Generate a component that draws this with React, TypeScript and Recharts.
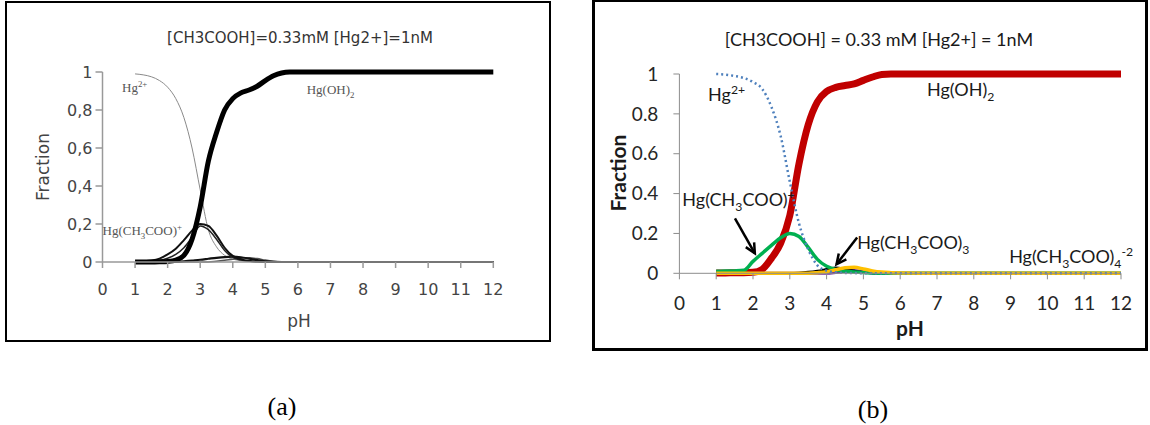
import React from 'react';
import { LineChart, Line, XAxis, YAxis, ReferenceDot, ReferenceLine } from 'recharts';

// pH grid shared by both panels
const pH = [1, 1.25, 1.5, 1.75, 2, 2.25, 2.5, 2.75, 3, 3.25, 3.5, 3.75, 4, 4.25, 4.5, 4.75, 5, 5.25, 5.5, 5.75, 6, 7, 8, 9, 10, 11, 12];

// Panel (a)
const hg2A = [0.99, 0.985, 0.975, 0.955, 0.92, 0.86, 0.76, 0.6, 0.38, 0.17, 0.08, 0.035, 0.015, 0.007, 0.003, 0.001, 0, 0, 0, 0, 0, 0, 0, 0, 0, 0, 0];
const hgoh2A = [0, 0, 0, 0.001, 0.003, 0.01, 0.035, 0.12, 0.29, 0.53, 0.68, 0.8, 0.86, 0.89, 0.905, 0.925, 0.955, 0.98, 0.995, 1, 1, 1, 1, 1, 1, 1, 1];
const hgacA = [0.002, 0.004, 0.008, 0.018, 0.04, 0.07, 0.115, 0.165, 0.2, 0.19, 0.14, 0.075, 0.032, 0.015, 0.006, 0.002, 0.001, 0, 0, 0, 0, 0, 0, 0, 0, 0, 0];
const innerA = [0, 0.001, 0.003, 0.008, 0.02, 0.04, 0.075, 0.13, 0.19, 0.17, 0.12, 0.06, 0.025, 0.01, 0.004, 0.001, 0, 0, 0, 0, 0, 0, 0, 0, 0, 0, 0];
const small1A = [0, 0, 0, 0, 0, 0, 0.004, 0.008, 0.012, 0.017, 0.022, 0.026, 0.028, 0.025, 0.018, 0.01, 0.004, 0.001, 0, 0, 0, 0, 0, 0, 0, 0, 0];
const small2A = [0, 0, 0, 0, 0, 0, 0, 0, 0, 0, 0.004, 0.009, 0.015, 0.02, 0.022, 0.018, 0.01, 0.004, 0.001, 0, 0, 0, 0, 0, 0, 0, 0];

// Panel (b)
const hg2B = [1.0, 0.997, 0.99, 0.98, 0.96, 0.925, 0.835, 0.69, 0.46, 0.25, 0.12, 0.04, 0.013, 0.005, 0.002, 0.001, 0, 0, 0, 0, 0, 0, 0, 0, 0, 0, 0];
const hgoh2B = [0.002, 0.002, 0.003, 0.003, 0.005, 0.02, 0.075, 0.15, 0.29, 0.55, 0.745, 0.86, 0.912, 0.933, 0.942, 0.95, 0.968, 0.985, 0.998, 1, 1, 1, 1, 1, 1, 1, 1];
const greenB = [0.01, 0.011, 0.012, 0.015, 0.06, 0.1, 0.14, 0.178, 0.2, 0.185, 0.13, 0.07, 0.035, 0.018, 0.01, 0.007, 0.004, 0.001, 0, 0, 0, 0, 0, 0, 0, 0, 0];
const blackB = [0, 0, 0, 0, 0, 0, 0, 0, 0, 0.002, 0.006, 0.012, 0.02, 0.028, 0.022, 0.012, 0.005, 0.001, 0, 0, 0, 0, 0, 0, 0, 0, 0];
const purpleB = [0, 0, 0, 0, 0, 0, 0, 0, 0, 0, 0, 0, 0, 0.004, 0.01, 0.014, 0.008, 0.002, 0, 0, 0, 0, 0, 0, 0, 0, 0];
const yellowB = [0, 0, 0, 0, 0, 0, 0, 0, 0, 0, 0, 0.003, 0.008, 0.018, 0.028, 0.03, 0.022, 0.012, 0.006, 0.003, 0.001, 0, 0, 0, 0, 0, 0];

const xTicks = [0, 1, 2, 3, 4, 5, 6, 7, 8, 9, 10, 11, 12];
const yTicks = [0, 0.2, 0.4, 0.6, 0.8, 1];

const titleA = '[CH3COOH]=0.33mM  [Hg2+]=1nM';
const titleB = '[CH3COOH] = 0.33 mM [Hg2+] = 1nM';

const dataA = pH.map((p, i) => ({ pH: p, hg2: hg2A[i], hgoh2: hgoh2A[i], hgac: hgacA[i], inner: innerA[i], s1: small1A[i], s2: small2A[i] }));
const dataB = pH.map((p, i) => ({ pH: p, hg2: hg2B[i], hgoh2: hgoh2B[i], green: greenB[i], black: blackB[i], purple: purpleB[i], yellow: yellowB[i] }));

const fmtComma = (v: number) => (v === 0 || v === 1 ? String(v) : v.toFixed(1).replace('.', ','));
const fmtDot = (v: number) => (v === 0 || v === 1 ? String(v) : v.toFixed(1));

type Part = [string, 'n' | 'sub' | 'sup'];

const makeLabel = (parts: Part[], font: string, size: number, fill: string) => (p: any) => {
  let cur = 0;
  return (
    <text x={p.cx} y={p.cy} fontFamily={font} fontSize={size} fill={fill}>
      {parts.map(([t, k], i) => {
        const target = k === 'sub' ? size * 0.3 : k === 'sup' ? -size * 0.4 : 0;
        const dy = target - cur;
        cur = target;
        return (
          <tspan key={i} dy={dy} fontSize={k === 'n' ? size : size * 0.68}>
            {t}
          </tspan>
        );
      })}
    </text>
  );
};

const arrowShape = (p: any) => {
  const { x1, y1, x2, y2 } = p;
  const ang = Math.atan2(y2 - y1, x2 - x1);
  const L = 11;
  const a1 = ang + Math.PI - 0.45;
  const a2 = ang + Math.PI + 0.45;
  return (
    <g>
      <line x1={x1} y1={y1} x2={x2} y2={y2} stroke="#000" strokeWidth={2.5} />
      <polyline
        points={`${x2 + L * Math.cos(a1)},${y2 + L * Math.sin(a1)} ${x2},${y2} ${x2 + L * Math.cos(a2)},${y2 + L * Math.sin(a2)}`}
        fill="none"
        stroke="#000"
        strokeWidth={2.5}
      />
    </g>
  );
};

const serif = 'Liberation Serif, Times New Roman, serif';
const sansA = 'DejaVu Sans, sans-serif';
const lato = 'Lato, sans-serif';

export default function App() {
  const tickA = { fill: '#444', fontFamily: sansA, fontSize: 16 };
  const tickB = { fill: '#262626', fontFamily: lato, fontSize: 19 };
  return (
    <div style={{ position: 'absolute', left: 0, top: 0, width: 1150, height: 425, background: '#fff', overflow: 'hidden' }}>
      <div style={{ position: 'absolute', left: 5, top: 1, width: 546, height: 341, border: '2px solid #000', boxSizing: 'border-box' }} />
      <div style={{ position: 'absolute', left: 592, top: -1, width: 556, height: 352, border: '3px solid #000', boxSizing: 'border-box' }} />

      <div style={{ position: 'absolute', left: 0, top: 0 }}>
        <LineChart width={560} height={345} data={dataA} margin={{ top: 72, right: 66.7, bottom: 43, left: 42.5 }}>
          <XAxis
            dataKey="pH"
            type="number"
            domain={[0, 12]}
            ticks={xTicks}
            interval={0}
            height={40}
            tickSize={6}
            tickMargin={16}
            stroke="#999"
            strokeWidth={1.5}
            tick={tickA}
          />
          <YAxis
            type="number"
            domain={[0, 1]}
            ticks={yTicks}
            width={60}
            tickSize={7}
            tickMargin={3}
            tickFormatter={fmtComma}
            stroke="#999"
            strokeWidth={1.5}
            tick={tickA}
          />
          <Line type="monotone" dataKey="hg2" stroke="#8a8a8a" strokeWidth={1} dot={false} activeDot={false} isAnimationActive={false} />
          <Line type="monotone" dataKey="s2" stroke="#555" strokeWidth={1.5} dot={false} activeDot={false} isAnimationActive={false} />
          <Line type="monotone" dataKey="s1" stroke="#111" strokeWidth={2.2} dot={false} activeDot={false} isAnimationActive={false} />
          <Line type="monotone" dataKey="inner" stroke="#222" strokeWidth={1.5} dot={false} activeDot={false} isAnimationActive={false} />
          <Line type="monotone" dataKey="hgac" stroke="#111" strokeWidth={2} dot={false} activeDot={false} isAnimationActive={false} />
          <Line type="monotone" dataKey="hgoh2" stroke="#000" strokeWidth={5} dot={false} activeDot={false} isAnimationActive={false} />
          <ReferenceDot x={0.6} y={0.895} r={0} shape={makeLabel([['Hg', 'n'], ['2+', 'sup']], serif, 13, '#555')} />
          <ReferenceDot x={6.27} y={0.884} r={0} shape={makeLabel([['Hg(OH)', 'n'], ['2', 'sub']], serif, 13, '#555')} />
          <ReferenceDot x={0} y={0.142} r={0} shape={makeLabel([['Hg(CH', 'n'], ['3', 'sub'], ['COO)', 'n'], ['+', 'sup']], serif, 13, '#555')} />
        </LineChart>
      </div>

      <div style={{ position: 'absolute', left: 592, top: 0 }}>
        <LineChart width={558} height={350} data={dataB} margin={{ top: 74, right: 29, bottom: 36.7, left: 27.4 }}>
          <XAxis
            dataKey="pH"
            type="number"
            domain={[0, 12]}
            ticks={xTicks}
            interval={0}
            height={40}
            tickSize={6}
            tickMargin={17}
            stroke="#8c8c8c"
            tick={tickB}
          />
          <YAxis
            type="number"
            domain={[0, 1]}
            ticks={yTicks}
            width={60}
            tickSize={6}
            tickMargin={15}
            tickFormatter={fmtDot}
            stroke="#8c8c8c"
            tick={tickB}
          />
          <Line type="monotone" dataKey="hgoh2" stroke="#C00000" strokeWidth={7} dot={false} activeDot={false} isAnimationActive={false} />
          <Line type="monotone" dataKey="purple" stroke="#7030A0" strokeWidth={3} dot={false} activeDot={false} isAnimationActive={false} />
          <Line type="monotone" dataKey="black" stroke="#000" strokeWidth={2.5} dot={false} activeDot={false} isAnimationActive={false} />
          <Line type="monotone" dataKey="green" stroke="#00B050" strokeWidth={3.5} dot={false} activeDot={false} isAnimationActive={false} />
          <Line type="monotone" dataKey="yellow" stroke="#FFC000" strokeWidth={3.5} dot={false} activeDot={false} isAnimationActive={false} />
          <Line type="monotone" dataKey="hg2" stroke="#4F81BD" strokeWidth={2.5} strokeDasharray="2 3" dot={false} activeDot={false} isAnimationActive={false} />
          <ReferenceLine segment={[{ x: 1.51, y: 0.276 }, { x: 2.05, y: 0.1 }]} shape={arrowShape} />
          <ReferenceLine segment={[{ x: 4.83, y: 0.18 }, { x: 4.27, y: 0.045 }]} shape={arrowShape} />
          <ReferenceDot x={0.78} y={0.865} r={0} shape={makeLabel([['Hg', 'n'], ['2+', 'sup']], lato, 18, '#1a1a1a')} />
          <ReferenceDot x={6.73} y={0.89} r={0} shape={makeLabel([['Hg(OH)', 'n'], ['2', 'sub']], lato, 18, '#1a1a1a')} />
          <ReferenceDot x={0.08} y={0.338} r={0} shape={makeLabel([['Hg(CH', 'n'], ['3', 'sub'], ['COO)', 'n'], ['+', 'sup']], lato, 18, '#1a1a1a')} />
          <ReferenceDot x={4.83} y={0.122} r={0} shape={makeLabel([['Hg(CH', 'n'], ['3', 'sub'], ['COO)', 'n'], ['3', 'sub']], lato, 18, '#1a1a1a')} />
          <ReferenceDot x={8.96} y={0.052} r={0} shape={makeLabel([['Hg(CH', 'n'], ['3', 'sub'], ['COO)', 'n'], ['4', 'sub'], ['-2', 'sup']], lato, 18, '#1a1a1a')} />
        </LineChart>
      </div>

      <svg width={1150} height={425} style={{ position: 'absolute', left: 0, top: 0, pointerEvents: 'none' }}>
        <text x={300} y={38} textAnchor="middle" dominantBaseline="central" fontFamily={sansA} fontSize={15} fill="#333">{titleA}</text>
        <text x={43} y={167} textAnchor="middle" dominantBaseline="central" fontFamily={sansA} fontSize={17} fill="#444" transform="rotate(-90 43 167)">Fraction</text>
        <text x={299} y={321} textAnchor="middle" dominantBaseline="central" fontFamily={sansA} fontSize={17} fill="#444">pH</text>

        <text x={879} y={38.5} textAnchor="middle" dominantBaseline="central" fontFamily={lato} fontSize={18} fill="#1a1a1a">{titleB}</text>
        <text x={617} y={173} textAnchor="middle" dominantBaseline="central" fontFamily={lato} fontWeight="bold" fontSize={21} fill="#1a1a1a" transform="rotate(-90 617 173)">Fraction</text>
        <text x={910} y={327} textAnchor="middle" dominantBaseline="central" fontFamily={lato} fontWeight="bold" fontSize={21} fill="#1a1a1a">pH</text>

        <text x={282} y={406} textAnchor="middle" dominantBaseline="central" fontFamily={serif} fontSize={26} fill="#000">(a)</text>
        <text x={873} y={409} textAnchor="middle" dominantBaseline="central" fontFamily={serif} fontSize={26} fill="#000">(b)</text>
      </svg>
    </div>
  );
}
